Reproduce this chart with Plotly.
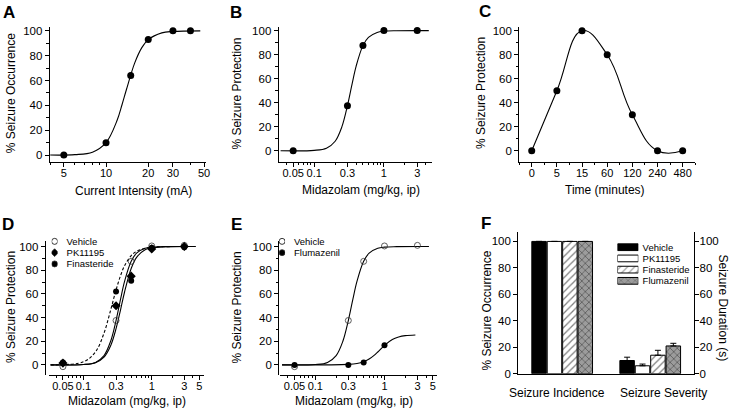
import plotly.graph_objects as go

W, H = 735, 417
FONT = "Arial, Liberation Sans, sans-serif"

# ---- data ----
a_current = [5, 10, 15, 20, 30, 40]
a_occurrence = [0, 10, 64, 93, 100, 100]
a_fit_x = [4, 6, 8, 10, 12, 13, 14, 16, 18, 20, 25, 30, 47]
a_fit_y = [0, 0.3, 2.3, 10, 28, 40.5, 53, 74, 86.5, 93, 98.4, 99.5, 100]

b_dose = [0.05, 0.3, 0.5, 1, 3]
b_protection = [0, 37.5, 87.5, 100, 100]
fit_x = [0.033, 0.1, 0.15, 0.2, 0.25, 0.3, 0.35, 0.4, 0.5, 0.6, 0.8, 1, 1.5, 4.4]
b_fit_y = [0, 0.3, 2.1, 7.9, 20, 37.5, 55.7, 70.5, 87.5, 94.4, 98.5, 99.5, 99.9, 100]

c_time = ["0", "5", "15", "60", "120", "240", "480"]
c_protection = [0, 50, 100, 80, 30, 0, 0]

d_dose = [0.05, 0.3, 0.5, 1, 3]
d_vehicle = [-1.5, 37.5, 87.5, 100.5, 101]
d_pk = [1.5, 50, 75, 98, 100]
d_fin = [2, 62, 71, 99, 99.5]
d_pk_fit = [0, 0.3, 1.9, 6.6, 16.2, 30.6, 46.8, 61.6, 81.4, 90.9, 97.3, 99, 99.8, 100]
d_fin_fit = [0.04, 2.6, 11, 26.9, 46.3, 63.3, 75.6, 83.8, 92.3, 96, 98.6, 99.4, 99.9, 100]

e_flu_dose = [0.05, 0.3, 0.5, 1]
e_flu = [0, 0, 2, 16.5]
e_flu_fit_x = [0.033, 0.3, 0.4, 0.5, 0.6, 0.7, 0.8, 1.0, 1.3, 1.6, 2.0, 2.8]
e_flu_fit_y = [0, 0.4, 1.1, 2.6, 4.9, 7.8, 10.9, 16.5, 21.4, 23.5, 24.7, 25.3]

f_groups = ["Seizure Incidence", "Seizure Severity"]
f_names = ["Vehicle", "PK11195", "Finasteride", "Flumazenil"]
f_values = [[100, 10], [100, 6], [100, 14], [100, 21]]
f_errors = [[0, 2.5], [0, 1.3], [0, 3.7], [0, 2]]
f_colors = ["black", "white", "white", "#9c9c9c"]
f_shapes = ["", "", "/", "x"]

d_legend = ["Vehicle", "PK11195", "Finasteride"]
d_symbols = ["circle-open", "diamond", "circle"]
e_legend = ["Vehicle", "Flumazenil"]
e_symbols = ["circle-open", "circle"]


def dx(a, b):
    return [a / W, b / W]


def dy(top, bottom):
    return [1 - bottom / H, 1 - top / H]


def axis(**kw):
    d = dict(showline=True, linecolor="black", linewidth=1, ticks="outside",
             ticklen=4, tickwidth=1, tickcolor="black", showgrid=False,
             zeroline=False, tickangle=0,
             tickfont=dict(size=11.5, color="black", family=FONT))
    d.update(kw)
    return d


def xaxis_std(**kw):
    return axis(ticklabelstandoff=-3, **kw)


def yaxis_pct(rng, minor=True, **kw):
    d = axis(range=rng, tick0=0, dtick=20, **kw)
    if minor:
        d["minor"] = dict(ticks="outside", ticklen=2.5, tick0=0, dtick=10,
                          tickcolor="black", showgrid=False)
    return d


line = dict(color="black", width=1.1)
fig = go.Figure()

# A
fig.add_trace(go.Scatter(x=a_fit_x, y=a_fit_y, mode="lines", line=dict(line, shape="spline"),
                         xaxis="x", yaxis="y", showlegend=False))
fig.add_trace(go.Scatter(x=a_current, y=a_occurrence, mode="markers",
                         marker=dict(color="black", size=7), xaxis="x", yaxis="y",
                         showlegend=False))
# B
fig.add_trace(go.Scatter(x=fit_x, y=b_fit_y, mode="lines", line=dict(line, shape="spline"),
                         xaxis="x2", yaxis="y2", showlegend=False))
fig.add_trace(go.Scatter(x=b_dose, y=b_protection, mode="markers",
                         marker=dict(color="black", size=7), xaxis="x2", yaxis="y2",
                         showlegend=False))
# C
c_idx = list(range(len(c_time)))
fig.add_trace(go.Scatter(x=c_idx, y=c_protection, mode="lines",
                         line=dict(line, shape="spline", smoothing=1.25),
                         xaxis="x3", yaxis="y3", showlegend=False))
fig.add_trace(go.Scatter(x=c_idx, y=c_protection, mode="markers",
                         marker=dict(color="black", size=7), xaxis="x3", yaxis="y3",
                         showlegend=False))
# D
fig.add_trace(go.Scatter(x=fit_x, y=b_fit_y, mode="lines", line=dict(line, shape="spline"),
                         xaxis="x4", yaxis="y4", showlegend=False))
fig.add_trace(go.Scatter(x=fit_x, y=d_pk_fit, mode="lines", line=dict(line, shape="spline"),
                         xaxis="x4", yaxis="y4", showlegend=False))
fig.add_trace(go.Scatter(x=fit_x, y=d_fin_fit, mode="lines",
                         line=dict(color="black", width=1.1, shape="spline", dash="3px,2px"),
                         xaxis="x4", yaxis="y4", showlegend=False))
fig.add_trace(go.Scatter(x=d_dose, y=d_vehicle, mode="markers",
                         marker=dict(symbol="circle-open", color="#333", size=6,
                                     line=dict(width=0.8)),
                         xaxis="x4", yaxis="y4", showlegend=False))
fig.add_trace(go.Scatter(x=d_dose, y=d_pk, mode="markers",
                         marker=dict(symbol="diamond", color="black", size=7),
                         xaxis="x4", yaxis="y4", showlegend=False))
fig.add_trace(go.Scatter(x=d_dose, y=d_fin, mode="markers",
                         marker=dict(symbol="circle", color="black", size=6),
                         xaxis="x4", yaxis="y4", showlegend=False))
# E
fig.add_trace(go.Scatter(x=fit_x, y=b_fit_y, mode="lines", line=dict(line, shape="spline"),
                         xaxis="x5", yaxis="y5", showlegend=False))
fig.add_trace(go.Scatter(x=e_flu_fit_x, y=e_flu_fit_y, mode="lines",
                         line=dict(line, shape="spline"),
                         xaxis="x5", yaxis="y5", showlegend=False))
fig.add_trace(go.Scatter(x=d_dose, y=d_vehicle, mode="markers",
                         marker=dict(symbol="circle-open", color="#333", size=6,
                                     line=dict(width=0.8)),
                         xaxis="x5", yaxis="y5", showlegend=False))
fig.add_trace(go.Scatter(x=e_flu_dose, y=e_flu, mode="markers",
                         marker=dict(symbol="circle", color="black", size=6),
                         xaxis="x5", yaxis="y5", showlegend=False))
# F
for name, vals, errs, col, shp in zip(f_names, f_values, f_errors, f_colors, f_shapes):
    fig.add_trace(go.Bar(
        x=f_groups, y=vals, name=name, xaxis="x6", yaxis="y6", showlegend=False,
        marker=dict(color=col, line=dict(color="black", width=1),
                    pattern=dict(shape=shp, fgcolor="black", bgcolor=col, size=5,
                                 solidity=0.25)),
        error_y=dict(type="data", array=errs, arrayminus=[0] * len(errs),
                     symmetric=False, color="black", thickness=1, width=3)))
fig.add_trace(go.Scatter(x=[], y=[], xaxis="x6", yaxis="y7", showlegend=False))

# legends drawn on small helper axes
fig.add_trace(go.Scatter(x=[0] * len(d_legend), y=d_legend, mode="markers",
                         marker=dict(symbol=d_symbols, color="black", size=6,
                                     line=dict(width=0.8, color="#333")),
                         xaxis="x8", yaxis="y8", showlegend=False))
fig.add_trace(go.Scatter(x=[0] * len(e_legend), y=e_legend, mode="markers",
                         marker=dict(symbol=e_symbols, color="black", size=6,
                                     line=dict(width=0.8, color="#333")),
                         xaxis="x9", yaxis="y9", showlegend=False))
fig.add_trace(go.Bar(x=[1] * len(f_names), y=f_names, orientation="h", width=0.6,
                     marker=dict(color=f_colors, line=dict(color="black", width=1),
                                 pattern=dict(shape=f_shapes, fgcolor="black",
                                              bgcolor=f_colors, size=5, solidity=0.25)),
                     xaxis="x10", yaxis="y10", showlegend=False))

log_minor = [0.04, 0.06, 0.07, 0.08, 0.09, 0.2, 0.4, 0.5, 0.6, 0.7, 0.8, 0.9, 2, 4]
minor_log = dict(ticks="outside", ticklen=2.5, tickvals=log_minor, tickcolor="black")
mid_ticks = [0.05, 0.1, 0.3, 1, 3]
mid_text = ["0.05", "0.1", "0.3", "1", "3"]
mid_ticks5 = mid_ticks + [5]
mid_text5 = mid_text + ["5"]
xfont = dict(size=11, color="black", family=FONT)

hidden = dict(visible=False, showgrid=False, zeroline=False)
legend_y = dict(side="right", showline=False, ticks="", showgrid=False, zeroline=False,
                tickfont=dict(size=9.5, color="black", family=FONT), type="category")

fig.update_layout(
    width=W, height=H, margin=dict(l=0, r=0, t=0, b=0),
    paper_bgcolor="white", plot_bgcolor="white",
    font=dict(family=FONT, color="black"),
    bargap=0.3, bargroupgap=0.06, barmode="group",
    xaxis=xaxis_std(type="log", domain=dx(50, 207), range=[0.598, 1.71], anchor="y",
                    tickvals=[5, 10, 20, 30, 50], ticktext=["5", "10", "20", "30", "50"],
                    tickfont=xfont,
                    minor=dict(ticks="outside", ticklen=2.5, tickvals=[4, 6, 7, 8, 9, 40],
                               tickcolor="black")),
    yaxis=yaxis_pct([-5.5, 103.5], domain=dy(25, 163), anchor="x"),
    xaxis2=xaxis_std(type="log", domain=dx(280.5, 435), range=[-1.51, 0.69], anchor="y2",
                     tickvals=mid_ticks, ticktext=mid_text, tickfont=xfont, minor=minor_log),
    yaxis2=yaxis_pct([-9.3, 103.4], domain=dy(25, 163), anchor="x2"),
    xaxis3=xaxis_std(domain=dx(522.7, 700), range=[-0.5, 6.5], anchor="y3",
                     tickvals=c_idx, ticktext=c_time, tickfont=xfont,
                     minor=dict(ticks="outside", ticklen=2.5, tick0=0.5, dtick=1,
                                tickcolor="black")),
    yaxis3=yaxis_pct([-9.2, 103.5], domain=dy(25, 163), anchor="x3"),
    xaxis4=xaxis_std(type="log", domain=dx(49, 205), range=[-1.51, 0.76], anchor="y4",
                     tickvals=mid_ticks5, ticktext=mid_text5, tickfont=xfont,
                     minor=minor_log),
    yaxis4=yaxis_pct([-8.3, 105], domain=dy(243.3, 380), anchor="free",
                     position=45 / W),
    xaxis5=xaxis_std(type="log", domain=dx(282, 440), range=[-1.51, 0.76], anchor="y5",
                     tickvals=mid_ticks5, ticktext=mid_text5, tickfont=xfont,
                     minor=minor_log),
    yaxis5=yaxis_pct([-8.3, 105], domain=dy(243.3, 380), anchor="free",
                     position=280 / W),
    xaxis6=axis(domain=dx(521.7, 699), range=[-0.5, 1.5], anchor="y6", ticks="",
                showticklabels=False),
    yaxis6=yaxis_pct([0, 107.5], minor=False, domain=dy(234, 379), anchor="x6"),
    yaxis7=yaxis_pct([0, 107.5], minor=False, domain=dy(234, 379), anchor="x6",
                     overlaying="y6", side="right", ticklen=4, ticklabelstandoff=-2),
    xaxis8=dict(hidden, domain=dx(52, 58), range=[-1, 1], anchor="y8"),
    yaxis8=dict(legend_y, domain=dy(238.3, 272.8), anchor="free", position=66 / W,
                range=[2.5, -0.5], categoryarray=d_legend, categoryorder="array"),
    xaxis9=dict(hidden, domain=dx(281, 287), range=[-1, 1], anchor="y9"),
    yaxis9=dict(legend_y, domain=dy(238.3, 261.3), anchor="free", position=295 / W,
                range=[1.5, -0.5], categoryarray=e_legend, categoryorder="array"),
    xaxis10=dict(hidden, domain=dx(621.7, 642.7), range=[0, 1], anchor="y10"),
    yaxis10=dict(legend_y, domain=dy(244.3, 290), anchor="free", position=646 / W,
                 range=[3.5, -0.5], categoryarray=f_names, categoryorder="array"),
)

ann = []


def label(text, x, y, size=12, angle=0, bold=False, xanchor="center"):
    t = "<b>%s</b>" % text if bold else text
    ann.append(dict(text=t, x=x / W, y=1 - y / H, xref="paper", yref="paper",
                    showarrow=False, textangle=angle, xanchor=xanchor, yanchor="middle",
                    font=dict(size=size, color="black", family=FONT)))


for letter, x, y in [("A", 9, 11), ("B", 238, 11), ("C", 488, 10),
                     ("D", 8, 227), ("E", 238, 227), ("F", 489, 226)]:
    label(letter, x, y, size=17, bold=True)

label("% Seizure Occurrence", 11, 93, angle=-90)
label("% Seizure Protection", 239, 93, angle=-90)
label("% Seizure Protection", 485, 93, angle=-90)
label("% Seizure Protection", 11, 311, angle=-90)
label("% Seizure Protection", 239, 311, angle=-90)
label("% Seizure Occurrence", 490, 315, angle=-90)
label("Seizure Duration (s)", 727.5, 312, angle=90)
label("Current Intensity (mA)", 134, 192.5)
label("Midazolam (mg/kg, ip)", 363, 192)
label("Time (minutes)", 609, 192)
label("Midazolam (mg/kg, ip)", 127.5, 406.7)
label("Midazolam (mg/kg, ip)", 356.7, 406.7)
label(f_groups[0], 560.7, 398.3)
label(f_groups[1], 668, 398.3)

fig.update_layout(annotations=ann)
# the page's default body margin would shift the figure; remove it
fig.write_html("out.html", config={"displayModeBar": False},
               post_script="document.body.style.margin='0';")
